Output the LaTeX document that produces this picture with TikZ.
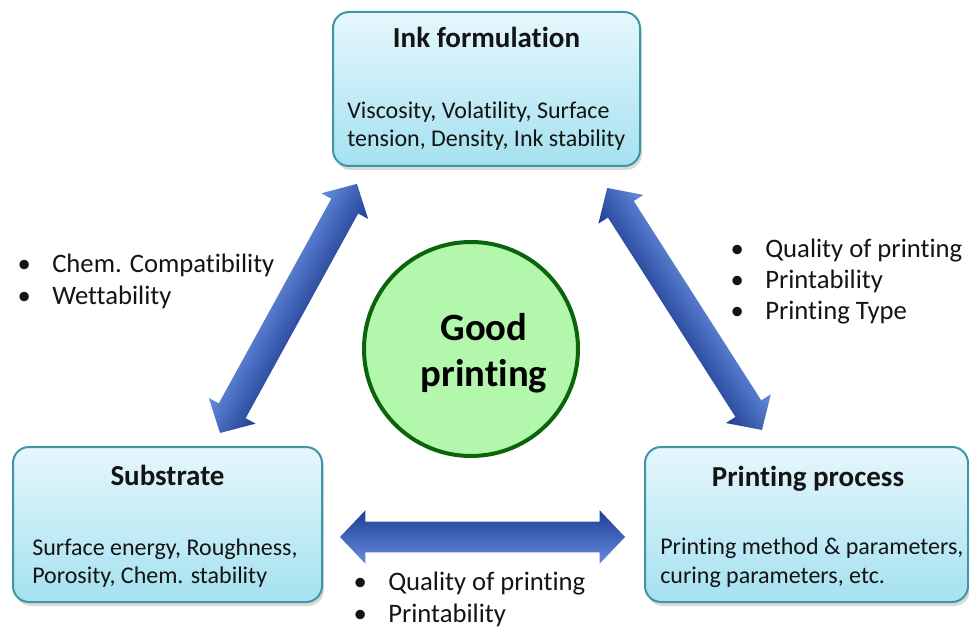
\documentclass[tikz,border=0pt]{standalone}
\usepackage{fontspec}
\setmainfont{Carlito}[Ligatures=NoCommon]
\usetikzlibrary{shadows}
\definecolor{boxborder}{RGB}{62,150,165}
\definecolor{boxtop}{RGB}{230,247,252}
\definecolor{boxbot}{RGB}{165,225,240}
\definecolor{circfill}{RGB}{178,247,172}
\definecolor{circline}{RGB}{10,100,10}
\definecolor{arrdark}{RGB}{32,62,145}
\definecolor{arrlight}{RGB}{100,140,222}
\definecolor{txt}{RGB}{20,20,20}
\tikzset{
  infobox/.style={draw=boxborder, line width=1.5pt, rounded corners=12pt,
    top color=boxtop, bottom color=boxbot,
    drop shadow={shadow xshift=1.5pt, shadow yshift=-3pt, opacity=0.3},
    inner sep=0pt},
  boxtitle/.style={font=\bfseries\fontsize{21.75}{26}\selectfont, text=txt, anchor=base, inner sep=0pt},
  boxbody/.style={font=\fontsize{18}{21.6}\selectfont, text=txt, anchor=base west, inner sep=0pt},
  bullettext/.style={font=\fontsize{20}{24}\selectfont, text=txt, anchor=base west, inner sep=0pt},
  goodtext/.style={font=\bfseries\fontsize{29}{36}\selectfont, text=black, anchor=base, inner sep=0pt},
}
\newcommand\blockarrow[5]{%
  \begin{scope}[transform canvas={shift={(#1)},rotate=#2}]
    \shade[top color=#4, bottom color=#5]
      (0pt,0pt) -- (19pt,20pt) -- (19pt,11.5pt) -- ({(#3-19)*1pt},11.5pt)
      -- ({(#3-19)*1pt},20pt) -- ({#3*1pt},0pt) -- ({(#3-19)*1pt},-20pt)
      -- ({(#3-19)*1pt},-11.5pt) -- (19pt,-11.5pt) -- (19pt,-20pt) -- cycle;
  \end{scope}}
\newcommand\bul{\llap{\textbullet\hspace{16pt}}}
\begin{document}
\begin{tikzpicture}[x=0.75pt,y=-0.75pt]
\useasboundingbox (0,0) rectangle (969,627);

% boxes
\node[infobox, minimum width=230.25pt, minimum height=115.5pt] (ink) at (486.5,89) {};
\node[infobox, minimum width=231.75pt, minimum height=116.25pt] (sub) at (167.5,524.5) {};
\node[infobox, minimum width=242.25pt, minimum height=116.25pt] (proc) at (806.5,524.5) {};

\node[boxtitle] (inkt) at (486.5,48) {Ink formulation};
\node[boxbody] (inkb1) at (347,119) {Viscosity, Volatility, Surface};
\node[boxbody] (inkb2) at (347,147) {tension, Density, Ink stability};

\node[boxtitle] (subt) at (167.5,485) {Substrate};
\node[boxbody] (subb1) at (32,555) {Surface energy, Roughness,};
\node[boxbody] (subb2) at (32,583) {Porosity, Chem. stability};

\node[boxtitle] (proct) at (808,486) {Printing process};
\node[boxbody] (procb1) at (660,554) {Printing method \& parameters,};
\node[boxbody] (procb2) at (660,583) {curing parameters, etc.};

% circle
\node[circle, draw=circline, fill=circfill, line width=3pt, minimum size=160.5pt] (good) at (471,349) {};
\node[goodtext] (good1) at (484,340) {Good};
\node[goodtext] (good2) at (484,386) {printing};

% arrow tips
\coordinate (la) at (220,433);
\coordinate (lb) at (357,184);
\coordinate (ra) at (762,430);
\coordinate (rb) at (607,188);
\coordinate (ha) at (340,537);
\coordinate (hb) at (625,537);
\blockarrow{la}{61.2}{213.2}{arrlight}{arrdark}
\blockarrow{ra}{122.6}{215.5}{arrdark}{arrlight}
\blockarrow{ha}{0}{213.75}{arrdark}{arrlight}

% bullet lists
\node[bullettext] (l1) at (52,272) {\bul Chem. Compatibility};
\node[bullettext] (l2) at (52,304) {\bul Wettability};
\node[bullettext] (r1) at (765,257) {\bul Quality of printing};
\node[bullettext] (r2) at (765,288) {\bul Printability};
\node[bullettext] (r3) at (765,319) {\bul Printing Type};
\node[bullettext] (b1) at (388,590) {\bul Quality of printing};
\node[bullettext] (b2) at (388,622) {\bul Printability};
\end{tikzpicture}
\end{document}
